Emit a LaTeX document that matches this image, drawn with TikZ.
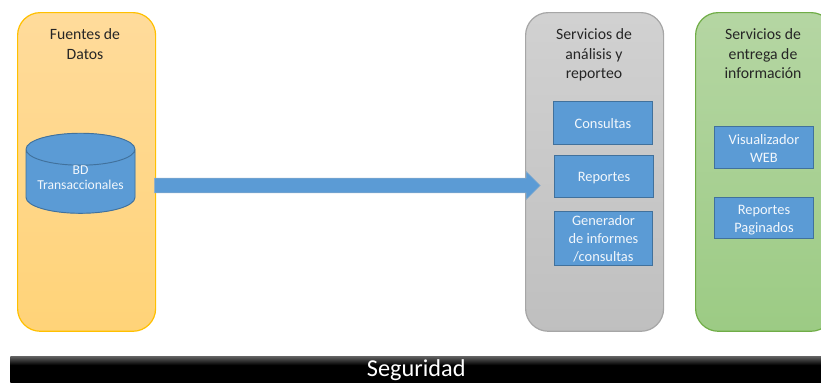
\documentclass[tikz,border=0pt]{standalone}
\usepackage{fontspec}
\setmainfont{Carlito}
\usetikzlibrary{shapes.geometric}
\usetikzlibrary{shapes.arrows}
\pgfdeclareverticalshading{barra}{100bp}{color(0bp)=(black); color(58bp)=(black); color(75bp)=(black!62); color(100bp)=(black!62)}
\definecolor{azul}{HTML}{5B9BD5}
\definecolor{azulborde}{HTML}{41719C}
\tikzset{
	panel/.style={rounded corners=17pt, line width=0.9pt, minimum width=103.5pt, minimum height=239pt, inner sep=0pt, anchor=north west},
	caja/.style={fill=azul, draw=azulborde, line width=0.7pt, text=white!92!azul, align=center, inner sep=0pt, anchor=north west, font=\fontsize{10.8}{13.4}\selectfont},
	titulo/.style={align=center, text=black!85, font=\fontsize{11.8}{14.6}\selectfont, anchor=north}
}
\begin{document}
\begin{tikzpicture}[x=0.75pt, y=-0.75pt]
	\useasboundingbox (0,0) rectangle (821,382);
	\clip (0,0) rectangle (821,382);
	\node (fuentes) [panel, draw={rgb,255:red,255;green,192;blue,0}, top color={rgb,255:red,255;green,219;blue,155}, bottom color={rgb,255:red,255;green,211;blue,120}] at (17,12) {};
	\node (analisis) [panel, draw=black!35, top color=black!18, bottom color=black!25] at (525,12) {};
	\node (entrega) [panel, draw={rgb,255:red,112;green,173;blue,71}, top color={rgb,255:red,181;green,214;blue,163}, bottom color={rgb,255:red,156;green,203;blue,132}] at (695,12) {};

	\node [titulo] at (85,24) {Fuentes de\\Datos};
	\node [titulo] at (594,24) {Servicios de\\análisis y\\reporteo};
	\node [titulo] at (763,24) {Servicios de\\entrega de\\información};

	\node (bd) [cylinder, shape border rotate=90, aspect=0.37, minimum width=81.75pt, minimum height=57pt, fill=azul, draw=azulborde, line width=0.7pt, cylinder uses custom fill, cylinder body fill=azul, cylinder end fill=azul, text=white!92!azul, align=center, inner sep=0pt, font=\fontsize{10.2}{11.2}\selectfont] at (80.5,181.5) {BD\\Transaccionales\\[-5.2pt]\mbox{}};

	\node (flecha) [single arrow, fill=azul, draw=azulborde!55, line width=0.4pt, minimum width=21pt, minimum height=289.5pt, single arrow head extend=5pt, inner xsep=0pt, inner ysep=5.4pt, anchor=tail] at (154,185.5) {};

	\node (consultas) [caja, minimum width=74.25pt, minimum height=32.25pt] at (553,101) {\rule{0pt}{9pt}Consultas};
	\node (reportes) [caja, minimum width=74.25pt, minimum height=31.5pt] at (554,155) {\rule{0pt}{9.8pt}Reportes};
	\node (generador) [caja, minimum width=73.5pt, minimum height=40.5pt] at (554,211) {Generador\\de informes\\/consultas};
	\node (visualizador) [caja, minimum width=74.25pt, minimum height=31.5pt] at (714,126) {\rule{0pt}{9pt}Visualizador\\WEB};
	\node (paginados) [caja, minimum width=74.25pt, minimum height=31pt] at (714,197) {\rule{0pt}{10.5pt}Reportes\\Paginados};

	\node (seguridad) [shading=barra, text=white, inner sep=0pt, minimum width=609pt, minimum height=19.5pt, text height=14.5pt, anchor=north west, font=\fontsize{18.2}{18}\selectfont] at (10,356) {Seguridad};
\end{tikzpicture}
\end{document}
